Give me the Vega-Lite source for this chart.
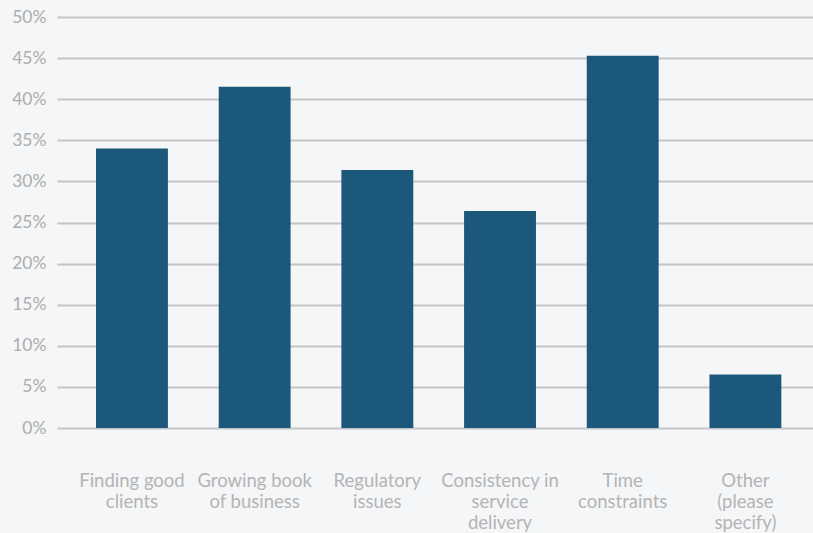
{
  "$schema": "https://vega.github.io/schema/vega-lite/v6.json",
  "autosize": "none",
  "width": 756,
  "height": 411,
  "padding": {"left": 57, "top": 17, "right": 0, "bottom": 105},
  "background": "#f4f6f8",
  "data": {
    "values": [
      {"challenge": "Finding good clients", "share": 0.340},
      {"challenge": "Growing book of business", "share": 0.415},
      {"challenge": "Regulatory issues", "share": 0.314},
      {"challenge": "Consistency in service delivery", "share": 0.264},
      {"challenge": "Time constraints", "share": 0.453},
      {"challenge": "Other (please specify)", "share": 0.065}
    ]
  },
  "mark": {"type": "bar", "color": "#1b587a"},
  "encoding": {
    "x": {
      "field": "challenge",
      "type": "nominal",
      "sort": null,
      "scale": {"paddingInner": 0.414, "paddingOuter": 0.288, "align": 0.552},
      "axis": {
        "title": null,
        "domain": false,
        "ticks": false,
        "labelAngle": 0,
        "labelPadding": 43,
        "labelBaseline": "top",
        "labelFont": "Lato",
        "labelFontWeight": 400,
        "labelFontSize": 18.5,
        "labelLineHeight": 21,
        "labelColor": "#b4b4b4",
        "labelExpr": "datum.value == 'Finding good clients' ? ['Finding good', 'clients'] : datum.value == 'Growing book of business' ? ['Growing book', 'of business'] : datum.value == 'Regulatory issues' ? ['Regulatory', 'issues'] : datum.value == 'Consistency in service delivery' ? ['Consistency in', 'service', 'delivery'] : datum.value == 'Time constraints' ? ['Time', 'constraints'] : ['Other', '(please', 'specify)']"
      }
    },
    "y": {
      "field": "share",
      "type": "quantitative",
      "scale": {"domain": [0, 0.5], "nice": false},
      "axis": {
        "title": null,
        "domain": false,
        "ticks": false,
        "values": [0, 0.05, 0.1, 0.15, 0.2, 0.25, 0.3, 0.35, 0.4, 0.45, 0.5],
        "format": ".0%",
        "labelPadding": 11,
        "labelFont": "Lato",
        "labelFontWeight": 400,
        "labelFontSize": 17.5,
        "labelColor": "#adadad",
        "gridColor": "#c4c4c6",
        "gridWidth": 2
      }
    }
  },
  "config": {
    "view": {"stroke": null}
  }
}
